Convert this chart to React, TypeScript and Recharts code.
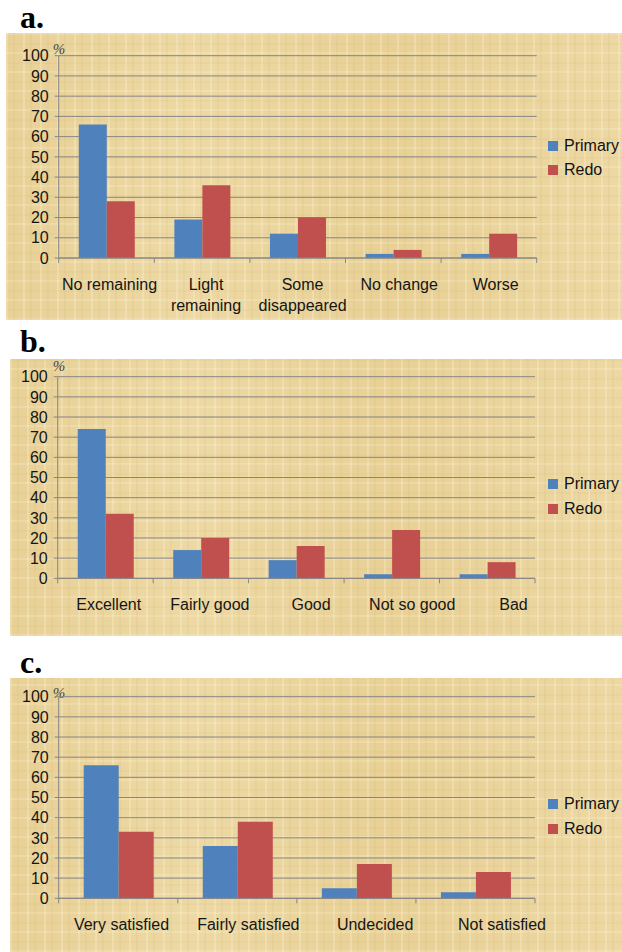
import React from "react";
import { BarChart, Bar, XAxis, YAxis, CartesianGrid, Legend } from "recharts";

// panel a: how much remained after treatment
const catsA = ["No remaining", "Light\nremaining", "Some\ndisappeared", "No change", "Worse"];
const primaryA = [66, 19, 12, 2, 2];
const redoA = [28, 36, 20, 4, 12];

// panel b: overall rating
const catsB = ["Excellent", "Fairly good", "Good", "Not so good", "Bad"];
const primaryB = [74, 14, 9, 2, 2];
const redoB = [32, 20, 16, 24, 8];

// panel c: satisfaction
const catsC = ["Very satisfied", "Fairly satisfied", "Undecided", "Not satisfied"];
const primaryC = [66, 26, 5, 3];
const redoC = [33, 38, 17, 13];

const yTicks = [0, 10, 20, 30, 40, 50, 60, 70, 80, 90, 100];

const BLUE = "#4F81BD";
const RED = "#C0504D";
const AXIS = "#868686";
const SANS = '"Liberation Sans", Arial, sans-serif';
const SERIF = '"Liberation Serif", "Times New Roman", serif';

const papyrus: React.CSSProperties = {
  backgroundColor: "#EAD49E",
  backgroundImage: [
    "repeating-linear-gradient(90deg, rgba(255,248,220,0.25) 0px, rgba(255,248,220,0.25) 2px, transparent 2px, transparent 7px, rgba(205,175,100,0.12) 7px, rgba(205,175,100,0.12) 9px, transparent 9px, transparent 17px)",
    "repeating-linear-gradient(0deg, rgba(255,248,220,0.2) 0px, rgba(255,248,220,0.2) 2px, transparent 2px, transparent 9px, rgba(205,175,100,0.1) 9px, rgba(205,175,100,0.1) 11px, transparent 11px, transparent 19px)",
    "linear-gradient(90deg, rgba(226,200,130,0.25), rgba(248,234,190,0.22) 30%, rgba(226,198,126,0.25) 62%, rgba(246,230,184,0.22))",
  ].join(","),
};

interface PanelProps {
  title: string;
  cats: string[];
  primary: number[];
  redo: number[];
  left: number;
  top: number;
  width: number;
  height: number;
  yAxisW: number;
  mTop: number;
  mRight: number;
  xAxisH: number;
  legendLeft: number;
  legendTop: number;
  legendRow: number;
  titleTop: number;
  pctTop: number;
  labelK: number;
  labelC: number;
}

function LegendBox({ payload, row }: any) {
  return (
    <div>
      {(payload || []).map((p: any) => (
        <div key={p.value} style={{ display: "flex", alignItems: "center", height: row }}>
          <span style={{ width: 10, height: 10, background: p.color, marginRight: 6, display: "inline-block" }} />
          <span style={{ fontFamily: SANS, fontSize: 16, color: "#111", lineHeight: "16px" }}>{p.value}</span>
        </div>
      ))}
    </div>
  );
}

function Panel(p: PanelProps) {
  const data = p.cats.map((c, i) => ({ cat: c, primary: p.primary[i], redo: p.redo[i] }));
  const plotW = p.width - p.yAxisW - p.mRight;
  const bw = plotW / p.cats.length;

  const tick = (props: any) => {
    const { x, y, payload, index } = props;
    const lines = String(payload.value).split("\n");
    const lx = p.yAxisW + p.labelK * (x - p.yAxisW) + p.labelC;
    return (
      <g>
        <line x1={x - bw / 2} x2={x - bw / 2} y1={y} y2={y + 5} stroke={AXIS} />
        {index === p.cats.length - 1 && (
          <line x1={x + bw / 2} x2={x + bw / 2} y1={y} y2={y + 5} stroke={AXIS} />
        )}
        <text x={lx} textAnchor="middle" fontFamily={SANS} fontSize={16} fill="#151515">
          {lines.map((l, i) => (
            <tspan key={i} x={lx} y={y + 32 + i * 21}>
              {l}
            </tspan>
          ))}
        </text>
      </g>
    );
  };

  return (
    <>
      <div
        style={{
          position: "absolute",
          left: 20,
          top: p.titleTop,
          fontFamily: SERIF,
          fontWeight: "bold",
          fontSize: 32,
          lineHeight: "32px",
          color: "#000",
        }}
      >
        {p.title}
      </div>
      <div style={{ position: "absolute", left: p.left, top: p.top, width: p.width, height: p.height, ...papyrus }}>
        <div
          style={{
            position: "absolute",
            left: 59 - p.left - 10,
            top: p.pctTop,
            width: 20,
            textAlign: "center",
            fontFamily: SERIF,
            fontStyle: "italic",
            fontSize: 15,
            lineHeight: "15px",
            color: "#444",
          }}
        >
          %
        </div>
        <BarChart
          width={p.width}
          height={p.height}
          data={data}
          margin={{ top: p.mTop, right: p.mRight, left: 0, bottom: 0 }}
          barCategoryGap="21%"
          barGap={0}
        >
          <CartesianGrid vertical={false} stroke={AXIS} />
          <XAxis
            dataKey="cat"
            interval={0}
            height={p.xAxisH}
            tickSize={0}
            tickMargin={0}
            tickLine={false}
            axisLine={{ stroke: AXIS }}
            tick={tick}
          />
          <YAxis
            type="number"
            domain={[0, 100]}
            ticks={yTicks}
            interval={0}
            width={p.yAxisW}
            tickSize={4}
            tickMargin={6}
            tickLine={{ stroke: AXIS }}
            axisLine={{ stroke: AXIS }}
            tick={{ fontFamily: SANS, fontSize: 16, fill: "#151515" }}
          />
          <Legend
            layout="vertical"
            align="center"
            verticalAlign="middle"
            wrapperStyle={{ left: p.legendLeft, top: p.legendTop, width: 80 }}
            content={(lp: any) => <LegendBox payload={lp.payload} row={p.legendRow} />}
          />
          <Bar dataKey="primary" name="Primary" fill={BLUE} isAnimationActive={false} />
          <Bar dataKey="redo" name="Redo" fill={RED} isAnimationActive={false} />
        </BarChart>
      </div>
    </>
  );
}

export default function App() {
  return (
    <div style={{ position: "absolute", left: 0, top: 0, width: 622, height: 952, background: "#fff", overflow: "hidden" }}>
      <Panel
        title="a."
        cats={catsA}
        primary={primaryA}
        redo={redoA}
        left={6}
        top={33}
        width={616}
        height={287}
        yAxisW={52.7}
        mTop={22.7}
        mRight={85.3}
        xAxisH={62}
        legendLeft={542}
        legendTop={101}
        legendRow={24}
        titleTop={1}
        pctTop={9.4}
        labelK={1.01}
        labelC={2.5}
      />
      <Panel
        title="b."
        cats={catsB}
        primary={primaryB}
        redo={redoB}
        left={10}
        top={359}
        width={612}
        height={277}
        yAxisW={47.7}
        mTop={17.7}
        mRight={87}
        xAxisH={57.7}
        legendLeft={538}
        legendTop={112.5}
        legendRow={25}
        titleTop={325}
        pctTop={0}
        labelK={1.06}
        labelC={0.4}
      />
      <Panel
        title="c."
        cats={catsC}
        primary={primaryC}
        redo={redoC}
        left={10}
        top={678}
        width={612}
        height={274}
        yAxisW={48.7}
        mTop={18.7}
        mRight={87}
        xAxisH={53.7}
        legendLeft={538}
        legendTop={113.5}
        legendRow={25}
        titleTop={646}
        pctTop={7.7}
        labelK={1.065}
        labelC={-0.6}
      />
    </div>
  );
}
